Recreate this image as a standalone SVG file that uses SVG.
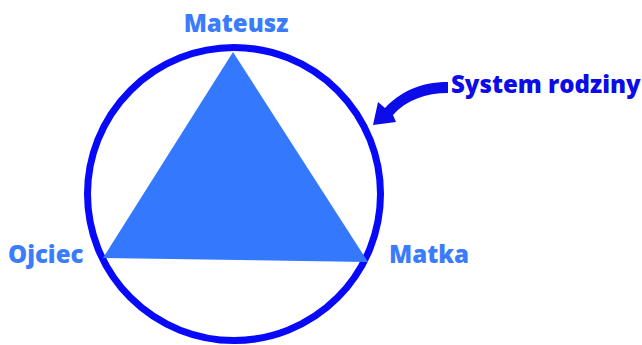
<svg xmlns="http://www.w3.org/2000/svg" width="642" height="345" viewBox="0 0 642 345">
<style>
.lbl{font-family:"Open Sans","Noto Sans",sans-serif;font-weight:800;font-size:24px;fill:#3a7cfb}
.sys{font-family:"Open Sans","Noto Sans",sans-serif;font-weight:800;font-size:24px;fill:#0c0ce8}
</style>
<rect width="642" height="345" fill="#ffffff"/>
<g id="system">
<circle cx="234" cy="194" r="146.5" fill="none" stroke="#0808fa" stroke-width="7"/>
</g>
<g id="triangle">
<polygon points="233,52 103,258 368,262" fill="#3479fd"/>
</g>
<g id="mateusz"><text class="lbl" x="236" y="32" text-anchor="middle">Mateusz</text></g>
<g id="ojciec"><text class="lbl" x="8" y="263">Ojciec</text></g>
<g id="matka"><text class="lbl" x="389" y="263">Matka</text></g>
<g id="label-system"><text class="sys" x="451" y="93">System rodziny</text></g>
<g id="connectors">
<path d="M448,82 L448,93 C426,93 406,100 393,115 L396,122 L373,125 L378,102 L385,108 C400,92 420,82 448,82 Z" fill="#0c0ce8"/>
</g>
</svg>
